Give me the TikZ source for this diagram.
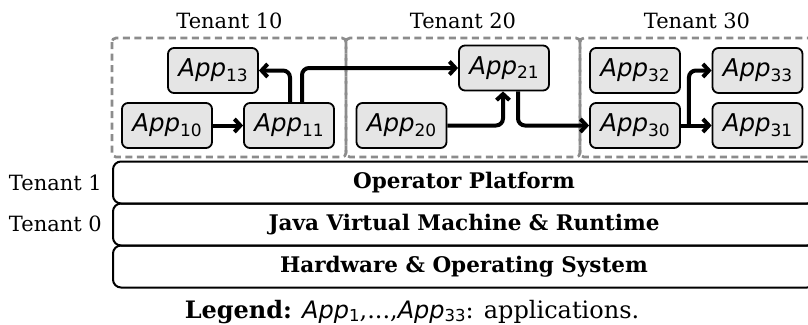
\documentclass[tikz,border=0pt]{standalone}
\usepackage{fontspec}
\setmainfont{DejaVu Serif}
\newfontfamily\appfont{DejaVu Sans}
\usetikzlibrary{arrows.meta}
\newcommand\applab[1]{{\appfont\fontsize{24.5}{28}\selectfont\textit{App}\raisebox{-4.5pt}{\fontsize{17}{20}\selectfont #1}}}
\newcommand\legapp[1]{{\appfont\fontsize{24}{28}\selectfont\textit{App}\raisebox{-3.5pt}{\fontsize{16.5}{19}\selectfont #1}}}
\begin{document}
\begin{tikzpicture}[x=1pt,y=-1pt,
  app/.style={draw=black, line width=1.8pt, fill=black!10, rounded corners=6pt,
    minimum width=90pt, minimum height=45pt, inner sep=0pt},
  tenantbox/.style={draw=black!45, dash pattern=on 7pt off 4.5pt, line width=2.7pt, rounded corners=4pt},
  layer/.style={draw=black, line width=2pt, rounded corners=8pt, minimum width=702pt,
    minimum height=42pt, inner sep=0pt, font=\fontsize{21.5}{25}\selectfont\bfseries},
  tlabel/.style={font=\fontsize{21}{25}\selectfont, inner sep=0pt},
  flow/.style={line width=4pt, -{Straight Barb[length=6pt,width=13pt]}, rounded corners=7pt}]
\useasboundingbox (0,0) rectangle (808,324);
% tenant boxes
\draw[tenantbox] (112,38) rectangle (346,157);
\draw[tenantbox] (346,38) rectangle (580,157);
\draw[tenantbox] (580,38) rectangle (830,157);
\node[tlabel] (t10) at (229.5,21) {Tenant 10};
\node[tlabel] (t20) at (463,21) {Tenant 20};
\node[tlabel] (t30) at (697,21) {Tenant 30};
% apps
\node[app] (a13) at (213,70.5) {\applab{13}};
\node[app] (a10) at (167,125.5) {\applab{10}};
\node[app] (a11) at (289,125.5) {\applab{11}};
\node[app] (a21) at (504,68) {\applab{21}};
\node[app] (a20) at (401.5,125.5) {\applab{20}};
\node[app] (a32) at (635,70.5) {\applab{32}};
\node[app] (a33) at (757.5,70.5) {\applab{33}};
\node[app] (a30) at (635,125.5) {\applab{30}};
\node[app] (a31) at (757.5,125.5) {\applab{31}};
% flows
\draw[flow] (a10) -- (a11);
\draw[flow] ([xshift=1pt]a11.north) |- (a13.east);
\draw[flow] ([xshift=13pt]a11.north) |- (a21.west);
\draw[flow] (a20.east) -| ([xshift=-1pt]a21.south);
\draw[flow] ([xshift=14pt]a21.south) |- (a30.west);
\draw[flow] (a30) -- (a31);
\coordinate (br) at ([xshift=8pt]a30.east);
\draw[flow] (br) |- (a33.west);
% layers
\node[layer, anchor=west] (op) at (112,182.5) {Operator Platform};
\node[layer, anchor=west] (jvm) at (112,224.5) {Java Virtual Machine \& Runtime};
\node[layer, anchor=west] (hw) at (112,266.5) {Hardware \& Operating System};
\node[tlabel, anchor=east] (t1) at (102,183) {Tenant 1};
\node[tlabel, anchor=east] (t0) at (102,224) {Tenant 0};
% legend
\node[font=\fontsize{24}{28}\selectfont, inner sep=0pt, anchor=base] (legend) at (412,318) {\textbf{Legend:} \legapp{1},...,\legapp{33}: applications.};
\end{tikzpicture}
\end{document}
